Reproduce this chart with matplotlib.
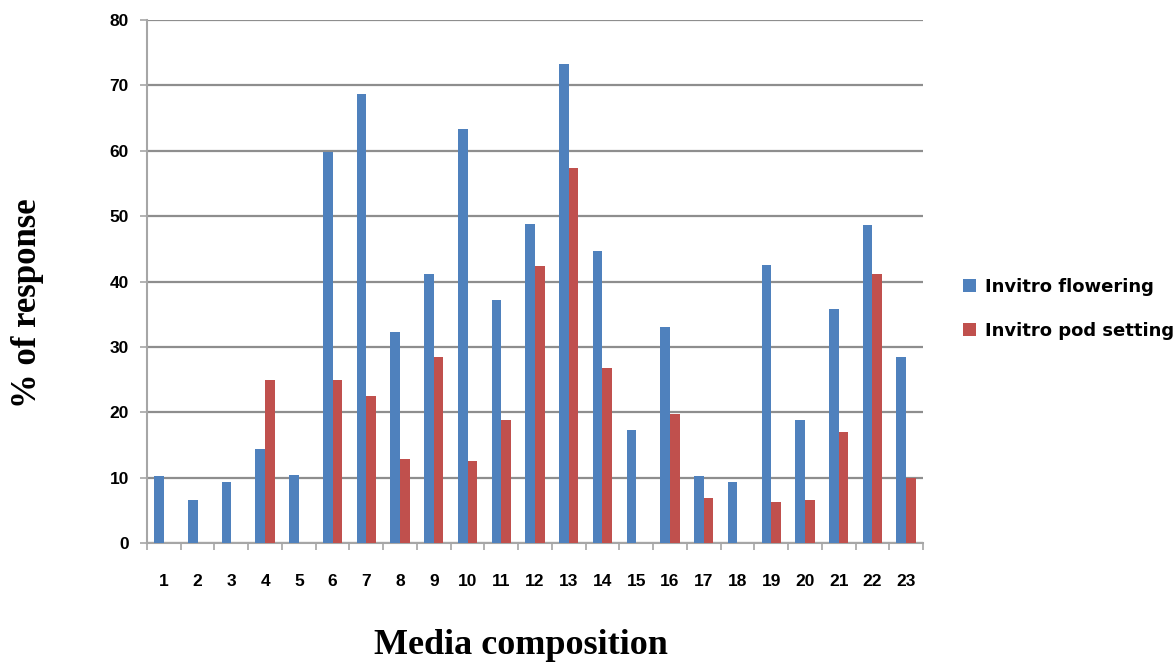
import matplotlib
matplotlib.use("Agg")
import matplotlib.pyplot as plt
import numpy as np
from matplotlib.ticker import FixedLocator, NullFormatter

# Media composition codes and response percentages
media = [str(i) for i in range(1, 24)]
flowering = [10.3, 6.6, 9.3, 14.4, 10.4, 59.8, 68.7, 32.2, 41.1, 63.4, 37.2, 48.8,
             73.2, 44.7, 17.3, 33.0, 10.3, 9.3, 42.6, 18.8, 35.8, 48.6, 28.4]
pod_setting = [0, 0, 0, 24.9, 0, 25.0, 22.5, 12.8, 28.4, 12.6, 18.8, 42.3,
               57.4, 26.8, 0, 19.8, 6.9, 0, 6.3, 6.6, 17.0, 41.2, 9.9]
series_names = ["Invitro flowering", "Invitro pod setting"]
y_ticks = [0, 10, 20, 30, 40, 50, 60, 70, 80]

blue = "#4F81BD"
red = "#C0504D"
grid_col = "#8E8E8E"

fig = plt.figure(figsize=(11.76, 6.69), dpi=100)
ax = fig.add_axes([147/1176, 1-543/669, (923-147)/1176, (543-20)/669])

x = np.arange(1, len(media) + 1)
w = 0.286
ax.bar(x - w/2, flowering, width=w, color=blue, label=series_names[0], zorder=3)
ax.bar(x + w/2, pod_setting, width=w, color=red, label=series_names[1], zorder=3)

ax.set_xlim(0.5, len(media) + 0.5)
ax.set_ylim(0, 80)
ax.set_yticks(y_ticks)
ax.yaxis.grid(True, color=grid_col, linewidth=1.6, zorder=0)
ax.set_axisbelow(True)

for s in ["top", "right"]:
    ax.spines[s].set_visible(False)
ax.spines["left"].set_color("#A6A6A6")
ax.spines["bottom"].set_color("#A6A6A6")
ax.spines["left"].set_linewidth(1.5)
ax.spines["bottom"].set_linewidth(1.5)

ax.set_xticks(x)
ax.set_xticklabels(media)
ax.xaxis.set_minor_locator(FixedLocator(np.arange(0.5, len(media) + 1, 1)))
ax.xaxis.set_minor_formatter(NullFormatter())
ax.tick_params(axis="x", which="major", length=0, pad=22)
ax.tick_params(axis="x", which="minor", length=5, color="#A6A6A6", width=1.2)
ax.tick_params(axis="y", length=5, color="#A6A6A6", width=1.2, pad=8)

for lab in ax.get_xticklabels():
    lab.set_fontfamily("Liberation Sans")
    lab.set_fontweight("bold")
    lab.set_fontsize(12.5)
for lab in ax.get_yticklabels():
    lab.set_fontfamily("Liberation Sans")
    lab.set_fontweight("bold")
    lab.set_fontsize(12.5)

fig.text(521/1176, 1-645/669, "Media composition", ha="center", va="center",
         fontfamily="Liberation Serif", fontweight="bold", fontsize=26)
fig.text(28/1176, 1-303/669, "% of response", ha="center", va="center", rotation=90,
         fontfamily="Liberation Serif", fontweight="bold", fontsize=25)

leg = fig.legend(loc="center left", bbox_to_anchor=(947/1176, 1-309/669), frameon=False,
                 handlelength=0.7, handleheight=0.7, handletextpad=0.5, labelspacing=1.45,
                 prop={"family": "DejaVu Sans", "weight": "bold", "size": 13})

fig.savefig("out.png", dpi=100, facecolor="white")
